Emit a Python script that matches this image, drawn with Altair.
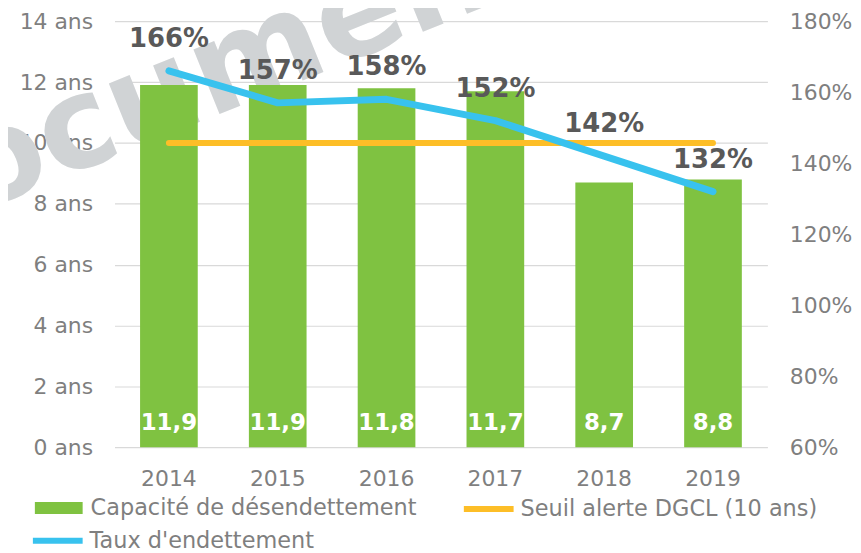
import altair as alt
import pandas as pd

# ---- data ----
annees = ["2014", "2015", "2016", "2017", "2018", "2019"]
capacite = [11.9, 11.9, 11.8, 11.7, 8.7, 8.8]
capacite_labels = ["11,9", "11,9", "11,8", "11,7", "8,7", "8,8"]
seuil = [10, 10, 10, 10, 10, 10]
taux = [166, 157, 158, 152, 142, 132]
taux_labels = ["166%", "157%", "158%", "152%", "142%", "132%"]
series = ["Capacité de désendettement", "Seuil alerte DGCL (10 ans)", "Taux d'endettement"]
colors = ["#7FC241", "#FDBE27", "#38C2EE"]
left_ticks = [0, 2, 4, 6, 8, 10, 12, 14]
right_ticks = [60, 80, 100, 120, 140, 160, 180]
watermark = ["Document"]

FONT = "DejaVu Sans"
GREY = "#7F7F7F"

df_bar = pd.DataFrame({"annee": annees, "v": capacite, "label": capacite_labels, "serie": series[0]})
df_seuil = pd.DataFrame({"annee": annees, "v": seuil, "serie": series[1]})
df_taux = pd.DataFrame({"annee": annees, "taux": taux, "label": taux_labels, "serie": series[2]})
df_wm = pd.DataFrame({"t": watermark})

x = alt.X("annee:N", sort=annees,
          scale=alt.Scale(paddingInner=0.47, paddingOuter=0.235),
          axis=alt.Axis(title=None, labelAngle=0, ticks=False, domain=False,
                        labelPadding=21, labelFontSize=22, labelColor=GREY, labelFont=FONT))


def make_legend(lx, ly, symbol, size, offset):
    return alt.Legend(title=None, orient="none", legendX=lx, legendY=ly, padding=0,
                      labelFont=FONT, labelFontSize=22.5, labelColor=GREY, labelLimit=0,
                      symbolType=symbol, symbolSize=size, symbolStrokeWidth=6,
                      symbolOpacity=1, labelOffset=offset)


def make_color(i, legend):
    return alt.Color("serie:N", scale=alt.Scale(domain=[series[i]], range=[colors[i]]), legend=legend)


yl = alt.Y("v:Q", scale=alt.Scale(domain=[0, 14], nice=False),
           axis=alt.Axis(values=left_ticks, labelExpr="datum.value + ' ans'", title=None,
                         grid=True, gridColor="#D9D9D9", gridWidth=1.2, ticks=False, domain=False,
                         labelPadding=22, labelFontSize=22, labelColor=GREY, labelFont=FONT))

wm = alt.Chart(df_wm).mark_text(angle=338, fontSize=128, fontWeight="bold", color="#D0D3D5",
                                font=FONT, align="center", baseline="alphabetic").encode(
    text="t:N", x=alt.value(101), y=alt.value(95))

bars = alt.Chart(df_bar).mark_bar().encode(
    x=x, y=yl, color=make_color(0, make_legend(-83, 462, "M-1,-0.25H1V0.25H-1Z", 2304, 5)))
seuil_line = alt.Chart(df_seuil).mark_line(strokeWidth=6, strokeCap="round").encode(
    x=x, y=yl, color=make_color(1, make_legend(348, 462, "stroke", 2500, 4)))
bar_text = alt.Chart(df_bar).mark_text(color="white", fontWeight="bold", fontSize=23, font=FONT,
                                       dy=-24, baseline="middle").encode(
    x=x, y=alt.datum(0), text="label:N")

yr = alt.Y("taux:Q", scale=alt.Scale(domain=[60, 180], nice=False),
           axis=alt.Axis(orient="right", values=right_ticks, labelExpr="datum.value + '%'", title=None,
                         grid=False, ticks=False, domain=False, labelPadding=22,
                         labelFontSize=22, labelColor=GREY, labelFont=FONT))
taux_line = alt.Chart(df_taux).mark_line(strokeWidth=7, strokeCap="round", strokeJoin="round").encode(
    x=x, y=yr, color=make_color(2, make_legend(-85, 494, "stroke", 2500, 4)))
taux_text = alt.Chart(df_taux).mark_text(color="#595959", fontWeight="bold", fontSize=26, font=FONT,
                                         dy=-32, baseline="middle").encode(x=x, y=yr, text="label:N")

left = alt.layer(wm, bars, seuil_line, bar_text).resolve_scale(color="independent")
right = alt.layer(taux_line, taux_text)

chart = alt.layer(left, right).resolve_scale(y="independent", color="independent").properties(
    width=656, height=428,
    padding={"left": 107, "top": 12, "right": 86, "bottom": 101},
    autosize=alt.AutoSizeParams(type="none"),
).configure_view(stroke=None)

chart.save("out.html", embed_options={"renderer": "svg", "actions": False})
